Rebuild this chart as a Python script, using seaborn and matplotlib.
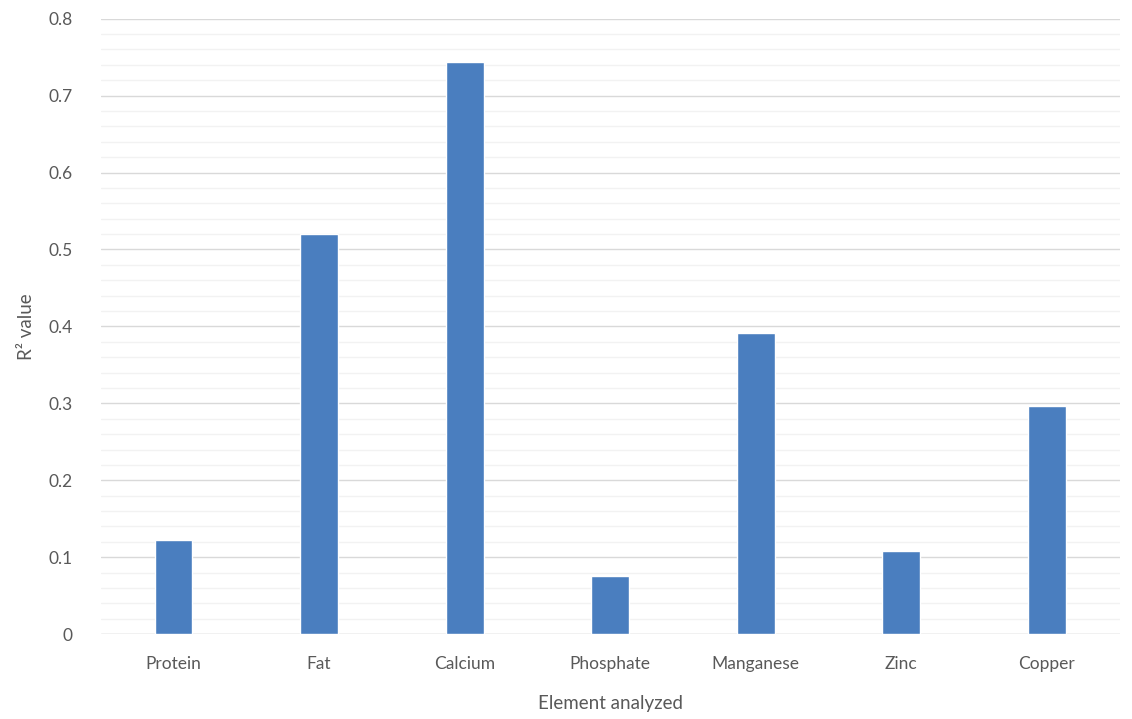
import matplotlib
matplotlib.use('Agg')

import pandas as pd
import matplotlib.pyplot as plt
import seaborn as sns
from matplotlib.ticker import MultipleLocator

# data
elements = ["Protein", "Fat", "Calcium", "Phosphate", "Manganese", "Zinc", "Copper"]
r2_values = [0.123, 0.520, 0.744, 0.075, 0.391, 0.108, 0.296]

df = pd.DataFrame({"element": elements, "r2": r2_values})

sns.set_style("white")
plt.rcParams['font.family'] = ['Lato', 'DejaVu Sans']
text_grey = "#595959"

fig = plt.figure(figsize=(11.32, 7.19), dpi=100)
ax = fig.add_axes([0.089, 0.118, 0.9, 0.856])

sns.barplot(data=df, x="element", y="r2", color="#4a7ebf", width=0.26,
            saturation=1, ax=ax, zorder=3)

ax.set_ylim(0, 0.8)
ax.yaxis.set_major_locator(MultipleLocator(0.1))
ax.yaxis.set_minor_locator(MultipleLocator(0.02))
ax.grid(which='major', axis='y', color="#d9d9d9", linewidth=1.0, zorder=0)
ax.grid(which='minor', axis='y', color="#f2f2f2", linewidth=1.0, zorder=0)
ax.set_axisbelow(True)

ax.set_yticks([i / 10 for i in range(9)])
ax.set_yticklabels(["0"] + [f"{i / 10:.1f}" for i in range(1, 9)])

for s in ax.spines.values():
    s.set_visible(False)
ax.axhline(0, color="#d9d9d9", linewidth=1.0, zorder=1)

ax.tick_params(axis='both', which='both', length=0, colors=text_grey, labelsize=12.5)
ax.tick_params(axis='y', pad=20)
ax.tick_params(axis='x', pad=16)

ax.set_xlabel("Element analyzed", fontsize=13.5, color=text_grey, labelpad=16)
ax.set_ylabel("R² value", fontsize=13.5, color=text_grey, labelpad=10)

fig.savefig("out.png", dpi=100)
